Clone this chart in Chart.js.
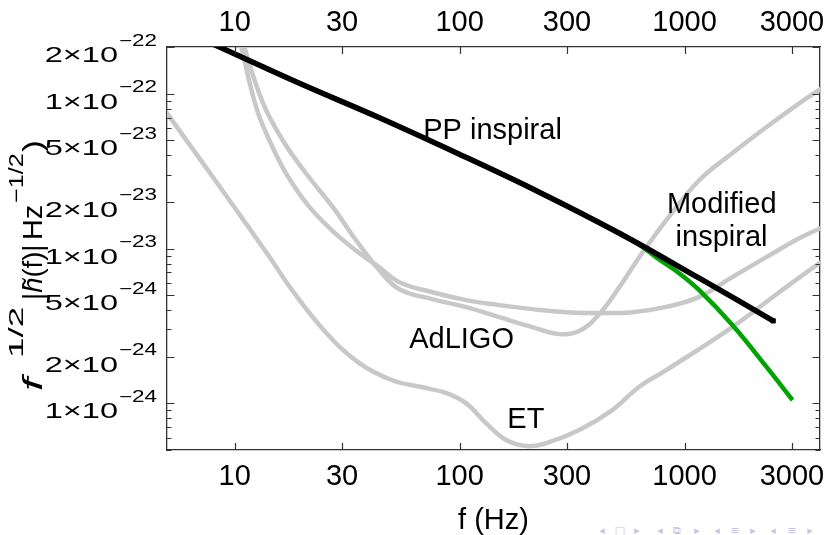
<!DOCTYPE html>
<html>
<head>
<meta charset="UTF-8">
<title>PP inspiral vs AdLIGO / ET</title>
<script src="https://cdn.jsdelivr.net/npm/chart.js@4.4.1/dist/chart.umd.min.js"></script>
<style>
  body { margin: 0; background: #fff; }
  canvas { display: block; }
</style>
</head>
<body>
<canvas id="c" width="827" height="535"></canvas>
<script>
const FONT = "'Liberation Sans', Arial, Helvetica, sans-serif";

// --- data: frequency (Hz) and f^1/2 |h(f)| (Hz^-1/2) ---
const ppFreq = [6.97, 8.55, 19.4, 44.0, 99.7, 226, 513, 1162, 2477];
const ppAsd  = [2.28e-22, 2.0e-22, 1.165e-22, 6.98e-23, 4.06e-23, 2.31e-23, 1.255e-23, 6.43e-24, 3.41e-24];

const modFreq = [6.97, 8.55, 19.4, 44.0, 99.7, 226, 513, 629, 746, 946, 1162, 1635, 2300, 3020];
const modAsd  = [2.28e-22, 2.0e-22, 1.165e-22, 6.98e-23, 4.06e-23, 2.31e-23, 1.255e-23, 1.06e-23, 8.79e-24, 6.93e-24, 5.38e-24, 3.20e-24, 1.74e-24, 1.05e-24];

const ligoFreq = [10.28, 10.7, 12.45, 14.26, 16.92, 21.48, 28.23, 35.84, 43.97, 53.95, 75.6, 107.1, 150.1, 210.4, 298, 417.8, 585.5, 829.5, 1162, 1629, 2307, 3234, 4134];
const ligoAsd  = [2.49e-22, 2.0e-22, 8.19e-23, 5.0e-23, 3.05e-23, 1.855e-23, 1.237e-23, 9.33e-24, 7.57e-24, 6.06e-24, 5.22e-24, 4.64e-24, 4.31e-24, 4.06e-24, 3.88e-24, 3.83e-24, 3.88e-24, 4.20e-24, 4.87e-24, 6.53e-24, 8.79e-24, 1.165e-23, 1.378e-23];

const ligo2Freq = [10.6, 11.04, 13.32, 16.35, 20.77, 27.27, 34.64, 43.97, 53.95, 75.6, 107.1, 150.1, 210.4, 277.4, 340.4, 417.8, 512.7, 629, 829.5, 1162, 1629, 2307, 3234, 4134];
const ligo2Asd  = [2.68e-22, 2.0e-22, 8.79e-23, 5.0e-23, 3.05e-23, 1.855e-23, 1.131e-23, 7.24e-24, 5.46e-24, 4.71e-24, 4.18e-24, 3.60e-24, 3.11e-24, 2.80e-24, 2.93e-24, 3.77e-24, 5.63e-24, 8.79e-24, 1.523e-23, 2.76e-23, 4.12e-23, 6.06e-23, 8.66e-23, 1.098e-22];

const etFreq = [4.63, 4.97, 6.97, 9.47, 14.3, 18.0, 25.6, 35.8, 50.2, 68.3, 87.3, 107, 131, 161, 198, 243, 340, 477, 629, 829, 1630, 2636, 3981, 4395];
const etAsd  = [8.79e-23, 7.57e-23, 3.82e-23, 2.05e-23, 8.79e-24, 5.38e-24, 2.84e-24, 1.82e-24, 1.41e-24, 1.27e-24, 1.165e-24, 1.0e-24, 7.46e-25, 5.80e-25, 5.30e-25, 5.54e-25, 6.73e-25, 9.05e-25, 1.28e-24, 1.64e-24, 3.11e-24, 5.22e-24, 8.04e-24, 8.79e-24];

// axis ticks
const xTickValues = [10, 30, 100, 300, 1000, 3000];
const yLabelTicks = [1e-24, 2e-24, 5e-24, 1e-23, 2e-23, 5e-23, 1e-22, 2e-22];
const xRange = [5, 4000];
const yRange = [5e-25, 2e-22];

// in-plot labels, anchored in data units [text, f, value]
const notes = [
  ['PP inspiral', 140, 5.1e-23],
  ['Modified', 1463, 1.69e-23],
  ['inspiral', 1460, 1.035e-23],
  ['AdLIGO', 102, 2.28e-24],
  ['ET', 197, 6.9e-25]
];

// minor ticks 1..9 x 10^n inside the y range
const yTickValues = [];
for (let e = -25; e <= -22; e++) {
  for (let k = 1; k <= 9; k++) {
    const v = k * Math.pow(10, e);
    if (v >= yRange[0] * 0.999 && v <= yRange[1] * 1.001) yTickValues.push(v);
  }
}
const isMajor = v => yLabelTicks.some(m => Math.abs(v / m - 1) < 1e-6);
const pts = (xs, ys) => xs.map((x, i) => ({ x: x, y: ys[i] }));

function grayLine(label, xs, ys) {
  return { label: label, data: pts(xs, ys), borderColor: '#c8c8c8', borderWidth: 4.5,
           pointRadius: 0, tension: 0.4, clip: 0 };
}

// draw a run of text rotated -90deg, stretched along its direction by k
function drawRotatedGroup(ctx, segs, startY, baseX, k) {
  ctx.save();
  ctx.translate(baseX, startY);
  ctx.rotate(-Math.PI / 2);
  ctx.scale(k, 1);
  ctx.textAlign = 'left';
  ctx.textBaseline = 'alphabetic';
  let x = 0;
  segs.forEach(s => { ctx.font = s[1]; ctx.fillText(s[0], x, 0); x += ctx.measureText(s[0]).width; });
  ctx.restore();
}

function drawStretched(ctx, text, font, rightX, baseY, sx) {
  ctx.save();
  ctx.font = font;
  const w = ctx.measureText(text).width * sx;
  ctx.translate(rightX, baseY);
  ctx.scale(sx, 1);
  ctx.textAlign = 'right';
  ctx.textBaseline = 'alphabetic';
  ctx.fillText(text, 0, 0);
  ctx.restore();
  return w;
}

const frame = {
  id: 'frame',
  afterDraw(chart) {
    const ctx = chart.ctx;
    const { left, right, top, bottom } = chart.chartArea;
    const xs = chart.scales.x, ys = chart.scales.y;

    // inward tick marks on all four sides
    ctx.save();
    ctx.strokeStyle = '#333';
    ctx.lineWidth = 1.2;
    ctx.beginPath();
    xTickValues.forEach(v => {
      const px = Math.round(xs.getPixelForValue(v)) + 0.5;
      ctx.moveTo(px, bottom); ctx.lineTo(px, bottom - 7);
      ctx.moveTo(px, top); ctx.lineTo(px, top + 7);
    });
    yTickValues.forEach(v => {
      const py = Math.round(ys.getPixelForValue(v)) + 0.5;
      const len = isMajor(v) ? 7.5 : 4.5;
      ctx.moveTo(left, py); ctx.lineTo(left + len, py);
      ctx.moveTo(right, py); ctx.lineTo(right - len, py);
    });
    ctx.stroke();
    ctx.restore();

    // y tick labels  m×10^e
    ctx.save();
    ctx.fillStyle = '#000';
    yLabelTicks.forEach(v => {
      const py = ys.getPixelForValue(v);
      const e = Math.floor(Math.log10(v) + 1e-9);
      const m = Math.round(v / Math.pow(10, e));
      const supW = drawStretched(ctx, '\u2212' + (-e), '16px ' + FONT, 157, py - 1.5, 1.4);
      drawStretched(ctx, m + '\u00d710', '22px ' + FONT, 157 - supW - 1, py + 15, 1.48);
    });
    ctx.restore();

    // y axis title (rotated)
    ctx.save();
    ctx.fillStyle = '#000';
    const big = '28px ' + FONT, sup = '20px ' + FONT;
    drawRotatedGroup(ctx, [['f', 'italic ' + big]], 391, 42, 1.7);
    drawRotatedGroup(ctx, [['1/2', sup]], 358, 23, 1.85);
    drawRotatedGroup(ctx, [['|', big], ['h\u0303', 'italic ' + big], ['(f)|', big]], 300, 42, 0.98);
    drawRotatedGroup(ctx, [['Hz', big]], 240, 42, 1.03);
    drawRotatedGroup(ctx, [['\u22121/2', sup]], 203, 23, 1.26);
    drawRotatedGroup(ctx, [[')', big]], 152, 42, 1.3);
    ctx.restore();

    // curve labels
    ctx.save();
    ctx.fillStyle = '#000';
    ctx.font = '29px ' + FONT;
    ctx.textAlign = 'center';
    ctx.textBaseline = 'alphabetic';
    notes.forEach(n => {
      ctx.fillText(n[0], xs.getPixelForValue(n[1]), ys.getPixelForValue(n[2]));
    });
    ctx.restore();

    // beamer navigation symbols
    ctx.save();
    ctx.fillStyle = '#c6c6e4';
    ctx.font = '11px "DejaVu Sans"';
    ctx.textAlign = 'center';
    ctx.textBaseline = 'middle';
    [['\u25c2', 602], ['\u25a1', 620], ['\u25b8', 637], ['\u25c2', 660], ['\u29c9', 677], ['\u25b8', 697],
     ['\u25c2', 717], ['\u2261', 735], ['\u25b8', 753], ['\u25c2', 773], ['\u2261', 792], ['\u25b8', 810]]
      .forEach(s => ctx.fillText(s[0], s[1], 531));
    ctx.restore();
  }
};

function xAxis(position, height, pad) {
  return {
    type: 'logarithmic', position: position, min: xRange[0], max: xRange[1],
    afterBuildTicks: s => { s.ticks = xTickValues.map(v => ({ value: v })); },
    afterFit: s => { s.height = height; s.paddingLeft = 0; s.paddingRight = 0; },
    grid: { display: false },
    border: { display: true, color: '#333', width: 1.3 },
    ticks: { color: '#000', font: { family: FONT, size: 29 }, padding: pad,
             maxRotation: 0, autoSkip: false, callback: v => String(v) }
  };
}
function yAxis(position, width) {
  return {
    type: 'logarithmic', position: position, min: yRange[0], max: yRange[1],
    afterBuildTicks: s => { s.ticks = yTickValues.map(v => ({ value: v })); },
    afterFit: s => { s.width = width; s.paddingTop = 0; s.paddingBottom = 0; },
    grid: { display: false },
    border: { display: true, color: '#333', width: 1.3 },
    ticks: { display: false }
  };
}

const xBottom = xAxis('bottom', 85, 2);
xBottom.title = { display: true, text: 'f (Hz)', color: '#000',
                  font: { family: FONT, size: 29, lineHeight: 1.0 }, padding: 0 };

new Chart(document.getElementById('c'), {
  type: 'line',
  data: {
    datasets: [
      { label: 'PP inspiral', data: pts(ppFreq, ppAsd), borderColor: '#000', borderWidth: 5.5,
        tension: 0.4, clip: 0, pointStyle: 'rect',
        pointRadius: c => c.dataIndex === ppFreq.length - 1 ? 3 : 0,
        pointBackgroundColor: '#000', pointBorderColor: '#000', pointBorderWidth: 1 },
      { label: 'Modified inspiral', data: pts(modFreq, modAsd), borderColor: '#00a400', borderWidth: 4.5,
        pointRadius: 0, tension: 0.4, clip: 0 },
      grayLine('AdLIGO', ligoFreq, ligoAsd),
      grayLine('AdLIGO (narrowband)', ligo2Freq, ligo2Asd),
      grayLine('ET', etFreq, etAsd)
    ]
  },
  options: {
    responsive: false,
    animation: false,
    layout: { padding: 0 },
    plugins: { legend: { display: false }, tooltip: { enabled: false } },
    scales: {
      x: xBottom,
      x2: xAxis('top', 47, -1.5),
      y: yAxis('left', 167),
      y2: yAxis('right', 7)
    }
  },
  plugins: [frame]
});
</script>
</body>
</html>
